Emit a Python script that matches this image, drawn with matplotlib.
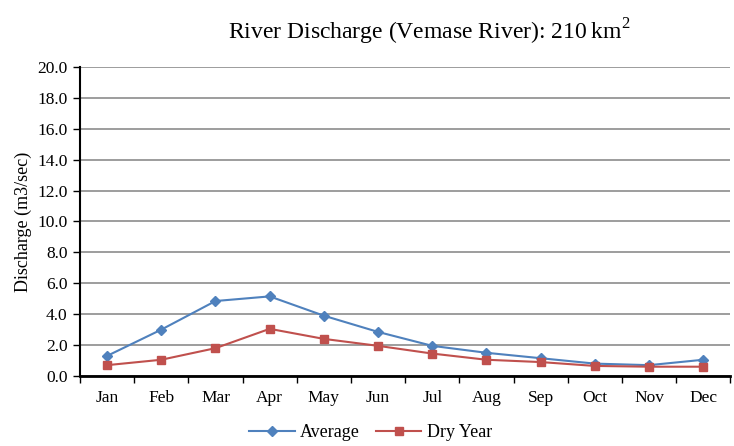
import matplotlib.pyplot as plt

# Data
months = ['Jan', 'Feb', 'Mar', 'Apr', 'May', 'Jun',
          'Jul', 'Aug', 'Sep', 'Oct', 'Nov', 'Dec']
average = [1.3, 3.0, 4.85, 5.15, 3.9, 2.85, 1.95, 1.5, 1.15, 0.8, 0.7, 1.05]
dry_year = [0.7, 1.05, 1.8, 3.05, 2.4, 1.95, 1.45, 1.05, 0.9, 0.65, 0.6, 0.6]
yticks = [0, 2, 4, 6, 8, 10, 12, 14, 16, 18, 20]

# Style
blue = '#4F81BD'
red = '#C0504D'
plt.rcParams['font.family'] = ['Liberation Serif', 'DejaVu Serif']
plt.rcParams['mathtext.fontset'] = 'custom'
plt.rcParams['mathtext.rm'] = 'Liberation Serif'

fig = plt.figure(figsize=(7.34, 4.46), dpi=100)
ax = fig.add_axes([0.109, 0.157, 0.886, 0.693])

x = list(range(len(months)))
ax.plot(x, average, color=blue, marker='D', markersize=5, lw=1.5, label='Average')
ax.plot(x, dry_year, color=red, marker='s', markersize=6, lw=1.5, label='Dry Year')

ax.set_xlim(-0.5, len(months) - 0.5)
ax.set_ylim(0, 20)
ax.set_yticks(yticks)
ax.set_yticklabels([f'{v:.1f}' for v in yticks], fontsize=12.5)
ax.set_xticks(x)
ax.set_xticklabels(months, fontsize=12.5)
ax.tick_params(axis='x', length=0, pad=10)
ax.set_xticks([i - 0.5 for i in range(len(months) + 1)], minor=True)
ax.tick_params(axis='x', which='minor', length=5, width=1, direction='out')
ax.tick_params(axis='y', length=5, width=1, direction='out', pad=4)
ax.grid(axis='y', color='#8c8c8c', lw=1.2)
ax.set_axisbelow(True)

for s in ['top', 'right']:
    ax.spines[s].set_visible(False)
ax.spines['left'].set_linewidth(1.5)
ax.spines['bottom'].set_linewidth(2)

ax.set_ylabel('Discharge (m3/sec)', fontsize=13, labelpad=4)
fig.text(0.585, 0.928, 'River Discharge (Vemase River): 210\u2009km$^2$',
         ha='center', va='center', fontsize=17)
fig.legend(loc='lower center', bbox_to_anchor=(0.505, -0.025), ncol=2,
           frameon=False, fontsize=13, handlelength=2.5, handletextpad=0.3,
           columnspacing=0.9)

fig.savefig('out.png', dpi=100)
